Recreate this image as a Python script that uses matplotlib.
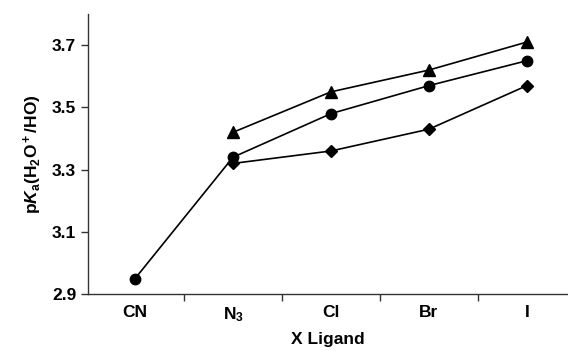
import matplotlib.pyplot as plt
from matplotlib.ticker import FixedLocator, NullFormatter

plt.rcParams['font.family'] = 'Liberation Sans'
plt.rcParams['font.weight'] = 'bold'
plt.rcParams['mathtext.fontset'] = 'custom'
plt.rcParams['mathtext.rm'] = 'Liberation Sans:bold'
plt.rcParams['mathtext.it'] = 'Liberation Sans:italic:bold'
plt.rcParams['mathtext.bf'] = 'Liberation Sans:bold'

ligands = ['CN', 'N$_3$', 'Cl', 'Br', 'I']
circle_vals = [2.95, 3.34, 3.48, 3.57, 3.65]
triangle_vals = [3.42, 3.55, 3.62, 3.71]
diamond_vals = [3.32, 3.36, 3.43, 3.57]
yticks = [2.9, 3.1, 3.3, 3.5, 3.7]

fig = plt.figure(figsize=(5.68, 3.51), dpi=100)
ax = fig.add_axes([0.155, 0.162, 0.845, 0.798])

x_all = list(range(len(ligands)))
ax.plot(x_all, circle_vals, color='black', lw=1.2, marker='o', ms=7.5)
ax.plot(x_all[1:], triangle_vals, color='black', lw=1.2, marker='^', ms=8)
ax.plot(x_all[1:], diamond_vals, color='black', lw=1.2, marker='D', ms=6)

ax.set_xlim(-0.48, 4.42)
ax.set_ylim(2.9, 3.8)
ax.set_yticks(yticks)
ax.set_yticklabels([f'{v:.1f}' for v in yticks])
ax.set_xticks(x_all)
ax.set_xticklabels(ligands)
ax.xaxis.set_minor_locator(FixedLocator([0.5, 1.5, 2.5, 3.5]))
ax.xaxis.set_minor_formatter(NullFormatter())
ax.tick_params(axis='x', which='major', length=0, pad=8, labelsize=12.5, colors='black')
ax.tick_params(axis='x', which='minor', length=5, direction='out', width=1, color='#333333')
ax.tick_params(axis='y', length=5, width=1, labelsize=12.5, color='#333333')

for s in ['top', 'right']:
    ax.spines[s].set_visible(False)
for s in ['left', 'bottom']:
    ax.spines[s].set_color('#333333')
    ax.spines[s].set_linewidth(1)

ax.set_xlabel('X Ligand', fontsize=12.5, fontweight='bold', labelpad=6)
ax.set_ylabel(r'p$\mathit{K}_\mathrm{a}$(H$_2$O$^+$/HO)', fontsize=12.5, fontweight='bold', labelpad=6)

fig.savefig('out.png', dpi=100)
